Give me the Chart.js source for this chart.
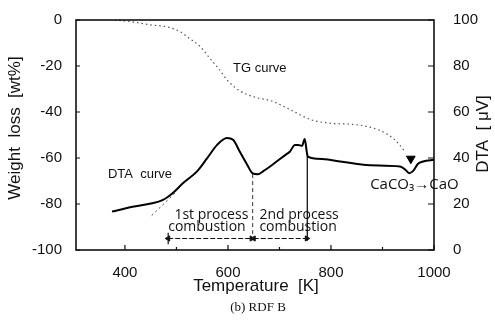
<!DOCTYPE html>
<html>
<head>
<meta charset="utf-8">
<script src="https://cdn.jsdelivr.net/npm/chart.js@4.4.1/dist/chart.umd.min.js"></script>
<style>
  html, body { margin: 0; padding: 0; background: #fff; }
  #wrap { width: 495px; height: 324px; position: relative; }
</style>
</head>
<body>
<div id="wrap"><canvas id="chart" width="495" height="324"></canvas></div>
<script>
// ---------- data ----------
const xTicks = [400, 500, 600, 700, 800, 900, 1000];
const lossTicks = [0, -20, -40, -60, -80, -100];
const dtaTicks = [100, 80, 60, 40, 20, 0];

// TG curve: weight loss [wt%] vs temperature [K]
const tgTemp = [380, 415, 448, 482, 507, 526, 546, 565, 581, 600, 623, 656, 682, 720, 759, 798, 837, 876, 909, 928, 944];
const tgLoss = [0, -0.8, -2.1, -3.0, -5.1, -8.1, -11.5, -16.7, -20.9, -26.5, -30.8, -33.8, -35.0, -38.9, -43.2, -44.9, -45.3, -46.6, -49.6, -53.0, -57.3];

// DTA curve: signal [uV] vs temperature [K]
const dtaTemp = [375, 415, 448, 474, 493, 513, 540, 559, 579, 598, 610, 623, 637, 648, 658, 668, 687, 715, 720, 730, 736, 744, 749, 753, 755, 773, 794, 818, 876, 934, 944, 952, 960, 969, 979, 1000];
const dtaSignal = [16.7, 18.8, 20.1, 21.8, 24.8, 29.1, 34.2, 39.7, 45.7, 48.7, 47.9, 42.7, 37.2, 33.3, 32.9, 34.2, 37.2, 41.9, 42.7, 45.7, 45.7, 45.3, 48.3, 42.7, 40.6, 39.7, 39.3, 38.5, 36.8, 36.3, 35.0, 33.4, 34.5, 37.5, 38.5, 39.2];

// CaCO3 -> CaO marker on the TG curve
const markerTemp = [955];
const markerLoss = [-60.3];

// process construction lines (DTA units)
const tangentTemp = [452, 501];
const tangentSignal = [15, 25.6];
const split1Temp = [648, 648];
const split1Signal = [33, 5];
const split2Temp = [754, 754];
const split2Signal = [42, 4];
const span1Temp = [484, 646];
const span2Temp = [650, 753];
const spanSignal = [5, 5];
const startBarTemp = [484, 484];
const startBarSignal = [2.5, 7.5];

const pts = (xs, ys) => xs.map((x, i) => ({ x, y: ys[i] }));

// ---------- text placed on the plot ----------
const notes = [
  { text: "TG curve", x: 610, y: -20.9, axis: "y", font: "13px 'Liberation Sans', Arial" },
  { text: "DTA  curve", x: 367, y: 32.9, axis: "y2", font: "13px 'Liberation Sans', Arial" },
  { text: "1st process", x: 496, y: 15.4, axis: "y2", font: "14px 'Open Sans'" },
  { text: "combustion", x: 484, y: 9.8, axis: "y2", font: "14px 'Open Sans'" },
  { text: "2nd process", x: 661, y: 15.4, axis: "y2", font: "14px 'Open Sans'" },
  { text: "combustion", x: 661, y: 9.8, axis: "y2", font: "14px 'Open Sans'" },
  { text: "CaCO\u2083\u2192CaO", x: 876, y: 28.5, axis: "y2", font: "15px 'Open Sans'" },
];

const framePlugin = {
  id: "frame",
  afterDraw(chart) {
    const { ctx, chartArea: a, scales } = chart;
    ctx.save();
    ctx.strokeStyle = "#111";
    ctx.lineWidth = 1.6;
    ctx.strokeRect(a.left, a.top, a.right - a.left, a.bottom - a.top);

    // inward tick marks
    ctx.lineWidth = 1.2;
    ctx.beginPath();
    xTicks.forEach((v) => {
      const px = scales.x.getPixelForValue(v);
      const len = v % 200 === 0 ? 5 : 3;
      ctx.moveTo(px, a.bottom);
      ctx.lineTo(px, a.bottom - len);
    });
    lossTicks.forEach((v) => {
      const py = scales.y.getPixelForValue(v);
      ctx.moveTo(a.left, py);
      ctx.lineTo(a.left + 4, py);
    });
    dtaTicks.forEach((v) => {
      const py = scales.y2.getPixelForValue(v);
      ctx.moveTo(a.right, py);
      ctx.lineTo(a.right - 6, py);
    });
    ctx.stroke();

    // notes
    ctx.fillStyle = "#111";
    ctx.textBaseline = "middle";
    ctx.textAlign = "left";
    notes.forEach((n) => {
      ctx.font = n.font;
      ctx.fillText(n.text, scales.x.getPixelForValue(n.x), scales[n.axis].getPixelForValue(n.y));
    });

    // axis titles + caption
    ctx.textAlign = "center";
    ctx.font = "17px 'Liberation Sans', Arial";
    ctx.fillText("Temperature  [K]", 256, 286);
    ctx.save();
    ctx.translate(15, 128);
    ctx.rotate(-Math.PI / 2);
    ctx.fillText("Weight  loss  [wt%]", 0, 0);
    ctx.restore();
    ctx.save();
    ctx.translate(483, 134);
    ctx.rotate(-Math.PI / 2);
    ctx.fillText("DTA  [ \u03bcV]", 0, 0);
    ctx.restore();
    ctx.font = "13px 'Liberation Serif', serif";
    ctx.fillText("(b) RDF B", 258, 308);
    ctx.restore();
  },
};

const tickFont = { family: "'Liberation Sans', Arial", size: 15 };

new Chart(document.getElementById("chart"), {
  type: "line",
  data: {
    datasets: [
      {
        label: "TG",
        data: pts(tgTemp, tgLoss),
        yAxisID: "y",
        borderColor: "#555",
        borderWidth: 1.2,
        borderDash: [1.5, 3],
        pointRadius: 0,
        cubicInterpolationMode: "monotone",
      },
      {
        label: "DTA",
        data: pts(dtaTemp, dtaSignal),
        yAxisID: "y2",
        borderColor: "#000",
        borderWidth: 2,
        pointRadius: 0,
        cubicInterpolationMode: "monotone",
      },
      {
        label: "marker",
        data: pts(markerTemp, markerLoss),
        yAxisID: "y",
        showLine: false,
        pointStyle: "triangle",
        rotation: 180,
        pointRadius: 5,
        backgroundColor: "#000",
        borderColor: "#000",
      },
      {
        label: "tangent",
        data: pts(tangentTemp, tangentSignal),
        yAxisID: "y2",
        borderColor: "#444",
        borderWidth: 1,
        borderDash: [2, 3],
        pointRadius: 0,
      },
      {
        label: "split1",
        data: pts(split1Temp, split1Signal),
        yAxisID: "y2",
        borderColor: "#333",
        borderWidth: 1,
        borderDash: [4, 3],
        pointRadius: 0,
      },
      {
        label: "split2",
        data: pts(split2Temp, split2Signal),
        yAxisID: "y2",
        borderColor: "#111",
        borderWidth: 1.3,
        pointRadius: 0,
      },
      {
        label: "span1",
        data: pts(span1Temp, spanSignal),
        yAxisID: "y2",
        borderColor: "#111",
        borderWidth: 1,
        borderDash: [5, 2],
        pointStyle: "triangle",
        rotation: [-90, 90],
        pointRadius: 3,
        backgroundColor: "#111",
      },
      {
        label: "span2",
        data: pts(span2Temp, spanSignal),
        yAxisID: "y2",
        borderColor: "#111",
        borderWidth: 1,
        borderDash: [5, 2],
        pointStyle: "triangle",
        rotation: [-90, 90],
        pointRadius: 3,
        backgroundColor: "#111",
      },
      {
        label: "startBar",
        data: pts(startBarTemp, startBarSignal),
        yAxisID: "y2",
        borderColor: "#111",
        borderWidth: 1.2,
        pointRadius: 0,
      },
    ],
  },
  options: {
    responsive: false,
    animation: false,
    events: [],
    layout: { padding: { top: 16, left: 0, right: 0, bottom: 0 } },
    plugins: { legend: { display: false }, tooltip: { enabled: false } },
    scales: {
      x: {
        type: "linear",
        min: 305,
        max: 1000,
        afterBuildTicks: (s) => { s.ticks = xTicks.map((v) => ({ value: v })); },
        afterFit: (s) => { s.height = 74; },
        grid: { display: false },
        border: { display: false },
        ticks: {
          padding: 6,
          color: "#111",
          font: tickFont,
          maxRotation: 0,
          autoSkip: false,
          callback: (v) => (v % 200 === 0 ? String(v) : ""),
        },
      },
      y: {
        position: "left",
        min: -100,
        max: 0,
        afterBuildTicks: (s) => { s.ticks = lossTicks.map((v) => ({ value: v })); },
        afterFit: (s) => { s.width = 76; },
        grid: { display: false },
        border: { display: false },
        ticks: { padding: 6, color: "#111", font: tickFont, callback: (v) => String(v) },
      },
      y2: {
        position: "right",
        min: 0,
        max: 100,
        afterBuildTicks: (s) => { s.ticks = dtaTicks.map((v) => ({ value: v })); },
        afterFit: (s) => { s.width = 61; },
        grid: { display: false },
        border: { display: false },
        ticks: { padding: 11, color: "#111", font: tickFont, callback: (v) => String(v) },
      },
    },
  },
  plugins: [framePlugin],
});
</script>
</body>
</html>
